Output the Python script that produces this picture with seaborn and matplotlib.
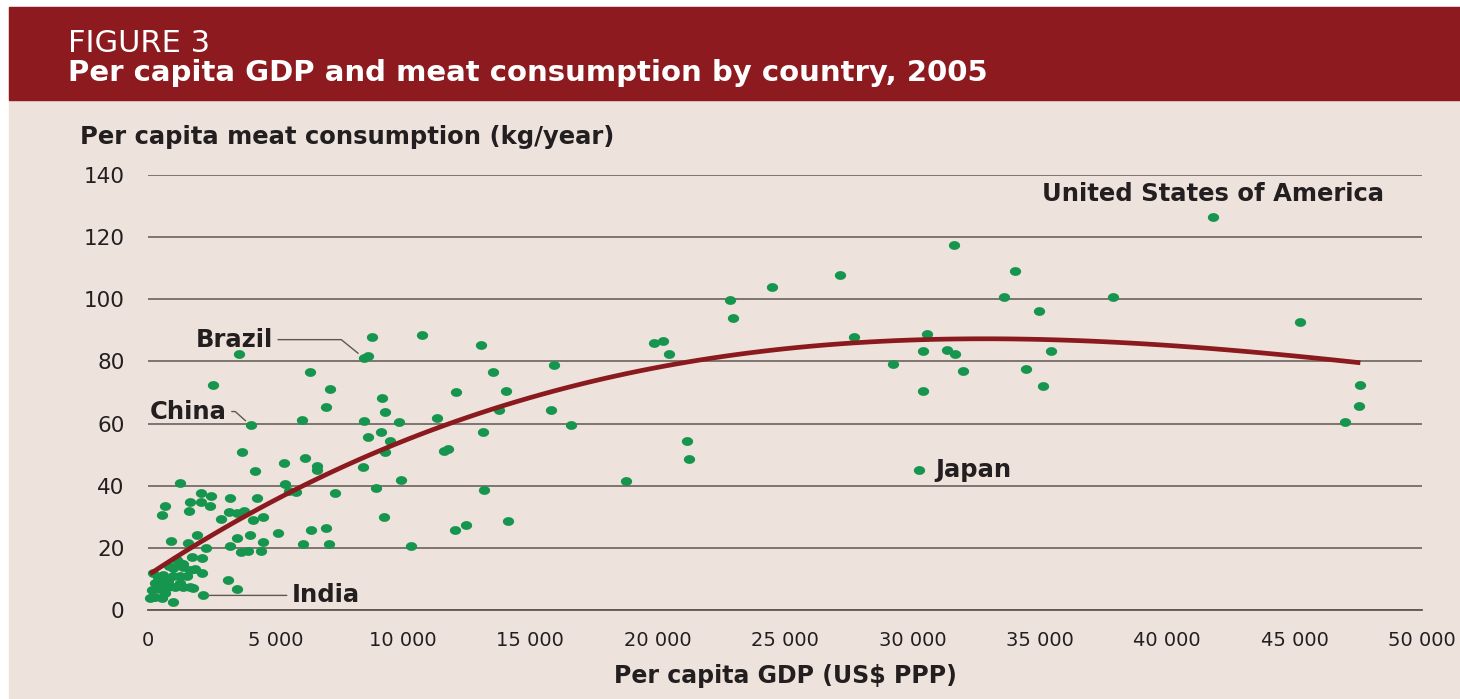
import numpy as np
import pandas as pd
import matplotlib
matplotlib.use("Agg")
import matplotlib.pyplot as plt
from matplotlib.patches import Rectangle
from matplotlib.path import Path
import seaborn as sns

# Per capita GDP (US$ PPP) and per capita meat consumption (kg/year), 2005
gdp = [
    # low-income cluster
    80, 145, 210, 210, 275, 275, 390, 470, 540, 540, 600, 600, 670, 800, 800,
    835, 970, 995, 995, 1060, 1125, 1257, 1257, 1257, 1360, 1390, 1390, 1520,
    1650, 1650, 1755, 1845, 2105, 2140, 3140, 3480, 1715, 2110,
    # 20-40 kg band
    915, 1585, 1935, 2260, 3235, 3480, 4005, 4520, 3650, 3940, 4430, 5090,
    6100, 7110, 6390, 6990, 10330, 12030, 12490, 14140, 2870, 4110, 4530,
    3180, 3480, 3780, 560, 1610, 655, 2450, 1650, 2070, 2475, 2095, 3210,
    4280, 1257, 9245, 13170, 9925, 8940, 7330, 5550, 5800, 5393,
    # 40-60 kg band
    4190, 5330, 6180, 6650, 6625, 8420, 3690, 9300, 11600, 11755, 9490, 8630,
    9140, 13145, 4030, 16610, 18760, 21160, 21240, 30260, 46980,
    # 60-80 kg band
    6050, 8480, 9860, 11325, 6990, 9300, 13780, 15810, 9200, 12085, 14040,
    7150, 2540, 6360, 13525, 15950, 29220, 32000, 34470, 35140, 30430, 47580,
    47530,
    # 80 kg and above
    3585, 8460, 8620, 8810, 10750, 13065, 19875, 20230, 20450, 22830, 22950,
    24500, 27150, 27700, 30560, 30430, 31340, 31680, 35430, 31630, 34040,
    33610, 34960, 37870, 45200, 41800,
]
meat = [
    3.8, 6.5, 11.8, 4.3, 8.6, 4.3, 10.7, 6.7, 9.7, 3.8, 11.3, 8.1, 5.4, 9.1, 7.5,
    14.2, 2.7, 13.4, 10.8, 7.5, 16.1, 15.1, 10.8, 8.8, 14.8, 14.0, 7.3, 11.0,
    12.9, 7.3, 7.2, 13.1, 11.8, 4.7, 9.6, 6.8, 17.2, 16.7,
    22.3, 21.6, 24.1, 20.1, 20.6, 23.3, 24.1, 21.9, 18.6, 19.1, 19.1, 24.7,
    21.3, 21.3, 25.6, 26.5, 20.7, 25.7, 27.2, 28.7, 29.4, 29.0, 29.8,
    31.4, 31.1, 31.9, 30.6, 31.9, 33.6, 33.4, 34.7, 34.6, 36.8, 37.8, 36.2,
    36.2, 40.9, 30.0, 38.6, 42.0, 39.2, 37.6, 38.4, 38.0, 40.6,
    44.8, 47.4, 48.9, 46.2, 45.2, 46.0, 51.0, 50.9, 51.1, 51.8, 54.3, 55.8,
    57.4, 57.2, 59.4, 59.5, 41.6, 54.3, 48.6, 45.2, 60.4,
    61.0, 60.8, 60.6, 61.9, 65.2, 63.8, 64.3, 64.5, 68.2, 70.3, 70.4,
    71.0, 72.3, 76.5, 76.7, 78.8, 79.1, 77.0, 77.6, 72.0, 70.5, 72.3,
    65.5,
    82.3, 81.2, 81.9, 88.0, 88.5, 85.3, 86.0, 86.5, 82.3, 99.7, 93.9,
    104.1, 107.8, 88.0, 88.7, 83.2, 83.8, 82.4, 83.5, 117.6, 109.1,
    100.8, 96.2, 100.8, 92.8, 126.5,
]

# Named countries
label_names = ["United States of America", "Brazil", "China", "India", "Japan"]
label_gdp = [41800, 8460, 4030, 2140, 30260]
label_meat = [126.5, 81.2, 59.4, 4.7, 45.2]

x_ticks = [0, 5000, 10000, 15000, 20000, 25000, 30000, 35000, 40000, 45000, 50000]
x_tick_labels = ["0", "5 000", "10 000", "15 000", "20 000", "25 000",
                 "30 000", "35 000", "40 000", "45 000", "50 000"]
y_ticks = [0, 20, 40, 60, 80, 100, 120, 140]

BG = "#EEE3DC"
HEADER = "#8D1A1F"
GREEN = "#15954D"
CURVE = "#8A1A1E"
GRID = "#5F5752"
INK = "#231F20"

sns.set_theme(style="white")
plt.rcParams["font.family"] = ["DejaVu Sans"]

W, H = 1460, 699
fig = plt.figure(figsize=(W / 100, H / 100), dpi=100)
fig.patch.set_facecolor("white")

# page panel and header band
fig.add_artist(Rectangle((9 / W, 0), 1 - 9 / W, 1 - 7 / H,
                         transform=fig.transFigure, color=BG, zorder=0))
fig.add_artist(Rectangle((9 / W, 1 - 100 / H), 1 - 9 / W, 93 / H,
                         transform=fig.transFigure, color=HEADER, zorder=1))

fig.text(68 / W, 1 - 44 / H, "FIGURE 3", color="white", fontsize=22,
         va="center", ha="left")
fig.text(68 / W, 1 - 73 / H, "Per capita GDP and meat consumption by country, 2005",
         color="white", fontsize=21, fontweight="bold", va="center", ha="left")

ax = fig.add_axes([148 / W, 1 - 610 / H, 1274 / W, 435 / H])
ax.set_facecolor("none")

df = pd.DataFrame({"gdp": gdp, "meat": meat})

# slightly wide dot marker
t = np.linspace(0, 2 * np.pi, 40)
dot = Path(np.column_stack([np.cos(t), 0.78 * np.sin(t)]), closed=True)

sns.scatterplot(data=df, x="gdp", y="meat", ax=ax, color=GREEN, marker=dot,
                s=66, linewidth=0, clip_on=False, zorder=3, legend=False)
sns.regplot(data=df, x="gdp", y="meat", order=3, scatter=False, ci=None, ax=ax,
            line_kws=dict(color=CURVE, lw=3.4, zorder=4, solid_capstyle="butt"))

ax.set_xlim(0, 50000)
ax.set_ylim(0, 140)
ax.set_xticks(x_ticks)
ax.set_xticklabels(x_tick_labels)
ax.set_yticks(y_ticks)
ax.set_yticklabels([str(v) for v in y_ticks])

for side in ["top", "right", "left"]:
    ax.spines[side].set_visible(False)
ax.spines["bottom"].set_color(GRID)
ax.spines["bottom"].set_linewidth(1.3)
ax.spines["bottom"].set_zorder(2)

ax.yaxis.grid(True, color=GRID, linewidth=1.1)
ax.xaxis.grid(False)
ax.set_axisbelow(True)
ax.tick_params(axis="x", direction="out", length=7, width=1.3, color=GRID,
               pad=8, labelsize=14, labelcolor=INK)
ax.tick_params(axis="y", length=0, pad=17, labelsize=15.5, labelcolor=INK)
ax.set_xlabel("")
ax.set_ylabel("")

fig.text(80 / W, 1 - 137 / H, "Per capita meat consumption (kg/year)", color=INK,
         fontsize=17.5, fontweight="bold", va="center", ha="left")
fig.text(785 / W, 1 - 676 / H, "Per capita GDP (US$ PPP)", color=INK,
         fontsize=17, fontweight="bold", va="center", ha="center")

# country labels
lab = dict(color=INK, fontsize=17.5, fontweight="bold")
lead = dict(arrowstyle="-", color=GRID, lw=1.0, shrinkA=1, shrinkB=5)

ax.annotate(label_names[0], xy=(label_gdp[0], label_meat[0]),
            xytext=(0, 16.5), textcoords="offset points", ha="center", va="center", **lab)
ax.annotate(label_names[1], xy=(label_gdp[1], label_meat[1]),
            xytext=(-65, 13), textcoords="offset points", ha="right", va="center",
            arrowprops=dict(connectionstyle="angle,angleA=0,angleB=141",
                            relpos=(1, 0.5), **lead), **lab)
ax.annotate(label_names[2], xy=(label_gdp[2], label_meat[2]),
            xytext=(-17, 10), textcoords="offset points", ha="right", va="center",
            arrowprops=dict(connectionstyle="angle,angleA=0,angleB=138",
                            relpos=(1, 0.5), **lead), **lab)
ax.annotate(label_names[3], xy=(label_gdp[3], label_meat[3]),
            xytext=(64, 0), textcoords="offset points", ha="left", va="center",
            arrowprops=dict(relpos=(0, 0.5), **lead), **lab)
ax.annotate(label_names[4], xy=(label_gdp[4], label_meat[4]),
            xytext=(12, 0), textcoords="offset points", ha="left", va="center", **lab)

fig.savefig("out.png", dpi=100, facecolor=fig.get_facecolor())
